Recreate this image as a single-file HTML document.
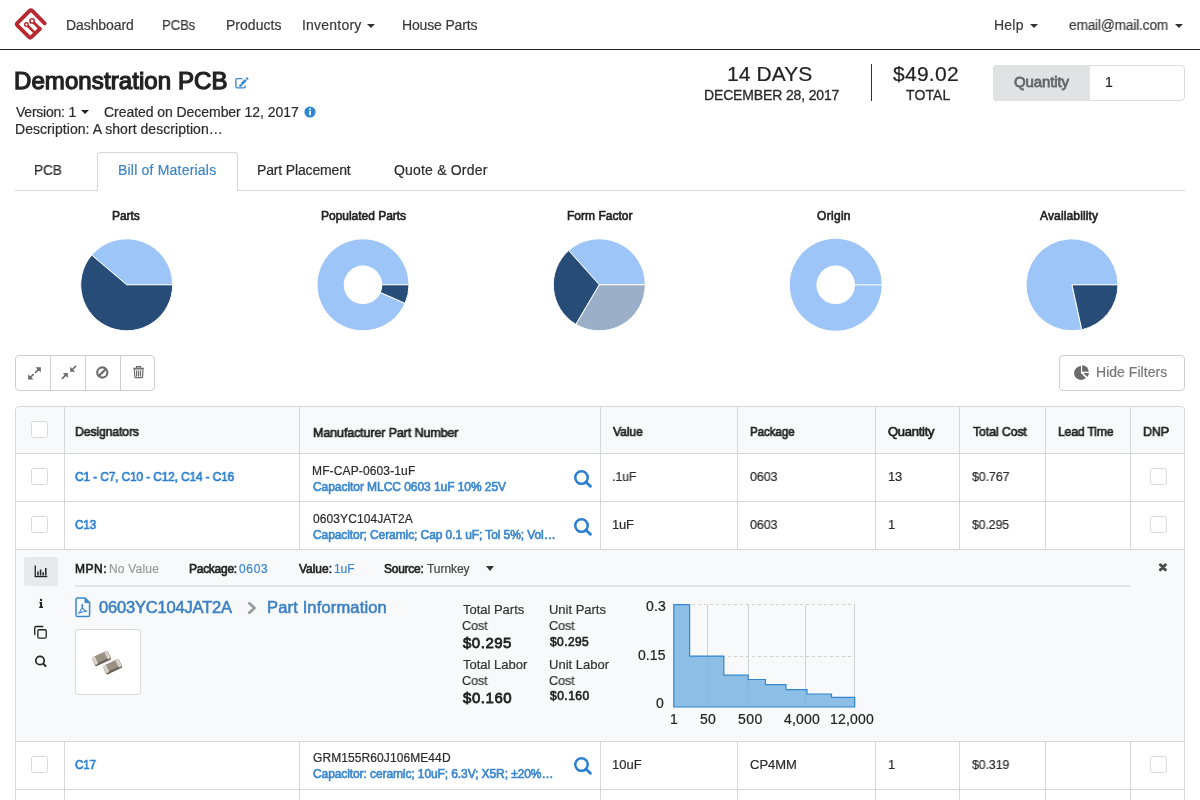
<!DOCTYPE html>
<html><head><meta charset="utf-8"><title>Demonstration PCB - Bill of Materials</title>
<style>
html,body{margin:0;padding:0;background:#fff;}
body{width:1200px;height:800px;overflow:hidden;position:relative;font-family:"Liberation Sans",sans-serif;}
.t{position:absolute;white-space:nowrap;will-change:transform;}
.b{position:absolute;}
.caret{position:absolute;width:0;height:0;border-left:4px solid transparent;border-right:4px solid transparent;border-top:4px solid #333;}
</style></head><body>
<header>
<svg class="b" style="left:10px;top:4px" width="42" height="42" viewBox="10 4 42 42">
<g fill="none" stroke="#b8282f" stroke-linejoin="round">
<path d="M44.7 23.3 L32.3 10.9 Q30.9 9.5 29.5 10.9 L17.5 22.8 Q16.1 24.2 17.5 25.6 L28.85 36.95 Q30.25 38.35 31.65 36.95 L39.9 28.8" stroke-width="3.8" stroke-linecap="round"/>
<path d="M41.2 28.9 L39.9 30.2 L38.6 28.9 Z" fill="#b8282f" stroke-width="1"/>
<path d="M40.4 29.3 L33.7 22.6" stroke-width="2.8"/>
<path d="M27.6 25.7 L35.6 33.7" stroke-width="2.5"/>
</g>
<g fill="#fff" stroke="#b8282f">
<circle cx="26.45" cy="24.55" r="1.8" stroke-width="1.4"/>
<circle cx="32.05" cy="20.9" r="2.2" stroke-width="1.5"/>
</g>
</svg>
<div class="t" style="left:66.38px;top:18px;font-size:14px;line-height:14px;color:#3a3a3a;-webkit-text-stroke:0.2px #3a3a3a;letter-spacing:-0.087px;">Dashboard</div>
<div class="t" style="left:162.24px;top:18px;font-size:14px;line-height:14px;color:#3a3a3a;-webkit-text-stroke:0.2px #3a3a3a;letter-spacing:-0.150px;transform:scaleX(0.9414);transform-origin:0 0;">PCBs</div>
<div class="t" style="left:226.28px;top:18px;font-size:14px;line-height:14px;color:#3a3a3a;-webkit-text-stroke:0.2px #3a3a3a;letter-spacing:0.025px;">Products</div>
<div class="t" style="left:302.45px;top:18px;font-size:14px;line-height:14px;color:#3a3a3a;-webkit-text-stroke:0.2px #3a3a3a;letter-spacing:0.216px;">Inventory</div>
<div class="caret" style="left:367px;top:24px"></div>
<div class="t" style="left:402.27px;top:18px;font-size:14px;line-height:14px;color:#3a3a3a;-webkit-text-stroke:0.2px #3a3a3a;letter-spacing:-0.157px;">House Parts</div>
<div class="t" style="left:993.58px;top:18px;font-size:14px;line-height:14px;color:#3a3a3a;-webkit-text-stroke:0.2px #3a3a3a;letter-spacing:0.225px;">Help</div>
<div class="caret" style="left:1030px;top:24px"></div>
<div class="t" style="left:1068.69px;top:18px;font-size:14px;line-height:14px;color:#3a3a3a;-webkit-text-stroke:0.2px #3a3a3a;letter-spacing:-0.150px;transform:scaleX(0.9753);transform-origin:0 0;">email@mail.com</div>
<div class="caret" style="left:1175px;top:24px"></div>
<div class="b" style="left:0px;top:49px;width:1200px;height:1px;background:#222"></div>
</header>
<main>
<section class="pcb-title">
<div class="t" style="left:13.82px;top:68.75px;font-size:24px;line-height:24px;color:#222;-webkit-text-stroke:1.25px #222;letter-spacing:0.086px;">Demonstration PCB</div>
<svg class="b" style="left:234px;top:76px" width="16" height="14" viewBox="0 0 16 14">
<path d="M8.6 2.6 H3.3 Q1.9 2.6 1.9 4 V10.5 Q1.9 11.9 3.3 11.9 H9.9 Q11.3 11.9 11.3 10.5 V9.6" fill="none" stroke="#3b86d0" stroke-width="1.35"/>
<path d="M7.6 8.2 L11.9 3.9 M12.6 3.2 L13.8 2" fill="none" stroke="#3b86d0" stroke-width="2.7"/>
<path d="M5.6 10.4 L6.3 8.1 L8 9.8 Z" fill="#3b86d0" stroke="#3b86d0" stroke-width="1" stroke-linejoin="round"/>
</svg>
<div class="t" style="left:15.78px;top:105px;font-size:14px;line-height:14px;color:#2b2b2b;-webkit-text-stroke:0.2px #2b2b2b;letter-spacing:-0.233px;">Version: 1</div>
<div class="caret" style="left:81px;top:110px;border-top-color:#222"></div>
<div class="t" style="left:103.95px;top:105px;font-size:14px;line-height:14px;color:#2b2b2b;-webkit-text-stroke:0.2px #2b2b2b;letter-spacing:-0.054px;">Created on December 12, 2017</div>
<svg class="b" style="left:304px;top:106px" width="12" height="12" viewBox="0 0 12 12">
<circle cx="6" cy="6" r="5.6" fill="#2f86d3"/><rect x="5.1" y="5" width="1.8" height="4.2" fill="#fff"/><circle cx="6" cy="3.3" r="1" fill="#fff"/></svg>
<div class="t" style="left:14.78px;top:122.1px;font-size:14px;line-height:14px;color:#2b2b2b;-webkit-text-stroke:0.2px #2b2b2b;letter-spacing:0.048px;">Description: A short description…</div>
<div class="t" style="left:726.88px;top:62.5px;font-size:21px;line-height:21px;color:#222;-webkit-text-stroke:0.2px #222;letter-spacing:0.092px;">14 DAYS</div>
<div class="t" style="left:704.12px;top:87.7px;font-size:14px;line-height:14px;color:#2a2a2a;-webkit-text-stroke:0.3px #2a2a2a;letter-spacing:-0.150px;">DECEMBER 28, 2017</div>
<div class="b" style="left:871px;top:64px;width:1px;height:37px;background:#333"></div>
<div class="t" style="left:893.35px;top:62.5px;font-size:21px;line-height:21px;color:#222;-webkit-text-stroke:0.2px #222;letter-spacing:0.265px;">$49.02</div>
<div class="t" style="left:906.10px;top:87.7px;font-size:14px;line-height:14px;color:#2a2a2a;-webkit-text-stroke:0.3px #2a2a2a;letter-spacing:0.094px;">TOTAL</div>
<div class="b" style="left:993px;top:65px;width:192px;height:36px;border:1px solid #dcdcdc;border-radius:4px;box-sizing:border-box;background:#fff"></div>
<div class="b" style="left:993px;top:65px;width:97px;height:36px;background:#e1e2e4;border-radius:4px 0 0 4px"></div>
<div class="t" style="left:1014.04px;top:74.4px;font-size:15px;line-height:15px;color:#666;-webkit-text-stroke:0.78px #666;letter-spacing:-0.129px;">Quantity</div>
<div class="t" style="left:1104.80px;top:75.4px;font-size:14px;line-height:14px;color:#222;-webkit-text-stroke:0.2px #222;">1</div>
</section>
<nav class="tabs">
<div class="b" style="left:15px;top:190px;width:1170px;height:1px;background:#d6d6d6"></div>
<div class="b" style="left:97px;top:152px;width:141px;height:39px;border:1px solid #d6d6d6;border-bottom:none;border-radius:4px 4px 0 0;background:#fff;box-sizing:border-box"></div>
<div class="t" style="left:33.90px;top:163px;font-size:14px;line-height:14px;color:#2b2b2b;-webkit-text-stroke:0.2px #2b2b2b;letter-spacing:-0.150px;transform:scaleX(0.9738);transform-origin:0 0;">PCB</div>
<div class="t" style="left:118.38px;top:163px;font-size:14px;line-height:14px;color:#3d85c6;-webkit-text-stroke:0.2px #3d85c6;letter-spacing:0.203px;">Bill of Materials</div>
<div class="t" style="left:257.12px;top:163px;font-size:14px;line-height:14px;color:#2b2b2b;-webkit-text-stroke:0.2px #2b2b2b;letter-spacing:-0.154px;">Part Placement</div>
<div class="t" style="left:393.62px;top:163px;font-size:14px;line-height:14px;color:#2b2b2b;-webkit-text-stroke:0.2px #2b2b2b;letter-spacing:0.188px;">Quote &amp; Order</div>
</nav>
<section class="charts">
<svg class="b" style="left:0;top:195px" width="1200" height="145" viewBox="0 195 1200 145"><path d="M126.7 284.8 L172.70 284.80 A46 46 0 0 0 91.63 255.04 Z" fill="#9dc5f8" stroke="#fff" stroke-width="1" stroke-linejoin="round"/><path d="M126.7 284.8 L91.63 255.04 A46 46 0 1 0 172.70 284.80 Z" fill="#264c77" stroke="#fff" stroke-width="1" stroke-linejoin="round"/><path d="M363 284.8 L409.00 284.80 A46 46 0 1 0 405.10 303.33 Z" fill="#9dc5f8" stroke="#fff" stroke-width="1" stroke-linejoin="round"/><path d="M363 284.8 L405.10 303.33 A46 46 0 0 0 409.00 284.80 Z" fill="#264c77" stroke="#fff" stroke-width="1" stroke-linejoin="round"/><circle cx="363" cy="284.8" r="19.3" fill="#fff"/><path d="M599.3 284.8 L645.30 284.80 A46 46 0 0 0 568.66 250.49 Z" fill="#9dc5f8" stroke="#fff" stroke-width="1" stroke-linejoin="round"/><path d="M599.3 284.8 L568.66 250.49 A46 46 0 0 0 575.88 324.39 Z" fill="#264c77" stroke="#fff" stroke-width="1" stroke-linejoin="round"/><path d="M599.3 284.8 L575.88 324.39 A46 46 0 0 0 645.30 284.80 Z" fill="#9bb0c8" stroke="#fff" stroke-width="1" stroke-linejoin="round"/><circle cx="835.7" cy="284.8" r="46" fill="#9dc5f8"/><circle cx="835.7" cy="284.8" r="19.3" fill="#fff"/><line x1="854" y1="284.8" x2="882" y2="284.8" stroke="#fff" stroke-width="1"/><path d="M1072 284.8 L1118.00 284.80 A46 46 0 1 0 1081.75 329.75 Z" fill="#9dc5f8" stroke="#fff" stroke-width="1" stroke-linejoin="round"/><path d="M1072 284.8 L1081.75 329.75 A46 46 0 0 0 1118.00 284.80 Z" fill="#264c77" stroke="#fff" stroke-width="1" stroke-linejoin="round"/></svg>
<div class="t" style="left:111.81px;top:209.8px;font-size:12px;line-height:12px;color:#222;-webkit-text-stroke:0.62px #222;letter-spacing:-0.061px;">Parts</div>
<div class="t" style="left:321.21px;top:209.8px;font-size:12px;line-height:12px;color:#222;-webkit-text-stroke:0.62px #222;letter-spacing:-0.023px;">Populated Parts</div>
<div class="t" style="left:566.81px;top:209.8px;font-size:12px;line-height:12px;color:#222;-webkit-text-stroke:0.62px #222;letter-spacing:0.015px;">Form Factor</div>
<div class="t" style="left:816.91px;top:209.8px;font-size:12px;line-height:12px;color:#222;-webkit-text-stroke:0.62px #222;letter-spacing:0.306px;">Origin</div>
<div class="t" style="left:1040.31px;top:209.8px;font-size:12px;line-height:12px;color:#222;-webkit-text-stroke:0.62px #222;letter-spacing:0.144px;">Availability</div>
</section>
<div class="toolbar">
<div class="b" style="left:15px;top:355px;width:140px;height:36px;border:1px solid #cfcfcf;border-radius:4px;box-sizing:border-box;background:#fff"></div>
<div class="b" style="left:50px;top:356px;width:1px;height:34px;background:#cfcfcf"></div>
<div class="b" style="left:85px;top:356px;width:1px;height:34px;background:#cfcfcf"></div>
<div class="b" style="left:120px;top:356px;width:1px;height:34px;background:#cfcfcf"></div>
<svg class="b" style="left:15px;top:355px" width="140" height="36" viewBox="15 355 140 36">
<g stroke="#6b6b6b" stroke-width="1.7" fill="none" stroke-linecap="butt">
<path d="M38.8 369.2 L35.1 372.9"/>
<path d="M30.2 377.5 L33.7 374"/>
<path d="M65.6 375.2 L62 378.8"/>
<path d="M72.4 369.5 L76 365.9"/>
</g>
<g fill="#6b6b6b">
<path d="M40.8 367.2 H35.5 L40.8 372.5 Z"/>
<path d="M28.2 379.5 V374.2 L33.5 379.5 Z"/>
<path d="M67.8 373 H62.8 L67.8 378 Z"/>
<path d="M70.2 371.7 V366.7 L75.2 371.7 Z"/>
</g>
<g stroke="#6b6b6b" stroke-width="1.7" fill="none">
<circle cx="102.3" cy="372.5" r="5.1" stroke-width="2.1"/>
<path d="M98.8 376 L105.8 369" stroke-width="2.3"/>
</g>
<g fill="none" stroke="#6b6b6b" stroke-width="1.2">
<path d="M134.4 369 H142.9 L142.6 376.6 Q142.6 377.6 141.5 377.6 H135.8 Q134.7 377.6 134.7 376.6 Z"/>
<path d="M133.2 368.3 H143.9"/><path d="M136.6 368 V366.6 H140.5 V368"/>
<path d="M136.6 370.6 V376.6 M138.55 370.6 V376.6 M140.5 370.6 V376.6"/>
</g></svg>
<div class="b" style="left:1059px;top:355px;width:126px;height:36px;border:1px solid #cfcfcf;border-radius:4px;box-sizing:border-box;background:#fff"></div>
<svg class="b" style="left:1072px;top:363px" width="20" height="18" viewBox="1072 363 20 18">
<path d="M1081 373 V366.1 A6.9 6.9 0 1 0 1085.88 377.88 Z" fill="#6b6b6b"/>
<path d="M1082.2 371.8 V365.2 A6.6 6.6 0 0 1 1088.8 371.8 Z" fill="#6b6b6b"/>
<path d="M1083.3 373 H1088.9 A5.6 5.6 0 0 1 1087.26 376.96 Z" fill="#6b6b6b"/>
</svg>
<div class="t" style="left:1096.38px;top:365px;font-size:14px;line-height:14px;color:#777;-webkit-text-stroke:0.2px #777;letter-spacing:0.034px;">Hide Filters</div>
</div>
<section class="bom-table">
<div class="b" style="left:15px;top:406px;width:1170px;height:420px;border:1px solid #d7d7d7;border-radius:4px 4px 0 0;box-sizing:border-box;background:#fff;overflow:hidden">
<div class="b" style="left:0;top:0;width:1168px;height:47px;background:#f8f9fa"></div>
</div>
<div class="b" style="left:16px;top:453px;width:1168px;height:1px;background:#d7d7d7"></div>
<div class="b" style="left:16px;top:501px;width:1168px;height:1px;background:#d7d7d7"></div>
<div class="b" style="left:16px;top:549px;width:1168px;height:1px;background:#d7d7d7"></div>
<div class="b" style="left:16px;top:741px;width:1168px;height:1px;background:#d7d7d7"></div>
<div class="b" style="left:16px;top:789px;width:1168px;height:1px;background:#d7d7d7"></div>
<div class="b" style="left:16px;top:550px;width:1168px;height:191px;background:#f8f9fa"></div>
<div class="b" style="left:64px;top:407px;width:1px;height:142px;background:#d7d7d7"></div>
<div class="b" style="left:64px;top:742px;width:1px;height:60px;background:#d7d7d7"></div>
<div class="b" style="left:299px;top:407px;width:1px;height:142px;background:#d7d7d7"></div>
<div class="b" style="left:299px;top:742px;width:1px;height:60px;background:#d7d7d7"></div>
<div class="b" style="left:600px;top:407px;width:1px;height:142px;background:#d7d7d7"></div>
<div class="b" style="left:600px;top:742px;width:1px;height:60px;background:#d7d7d7"></div>
<div class="b" style="left:737px;top:407px;width:1px;height:142px;background:#d7d7d7"></div>
<div class="b" style="left:737px;top:742px;width:1px;height:60px;background:#d7d7d7"></div>
<div class="b" style="left:875px;top:407px;width:1px;height:142px;background:#d7d7d7"></div>
<div class="b" style="left:875px;top:742px;width:1px;height:60px;background:#d7d7d7"></div>
<div class="b" style="left:959px;top:407px;width:1px;height:142px;background:#d7d7d7"></div>
<div class="b" style="left:959px;top:742px;width:1px;height:60px;background:#d7d7d7"></div>
<div class="b" style="left:1045px;top:407px;width:1px;height:142px;background:#d7d7d7"></div>
<div class="b" style="left:1045px;top:742px;width:1px;height:60px;background:#d7d7d7"></div>
<div class="b" style="left:1130px;top:407px;width:1px;height:142px;background:#d7d7d7"></div>
<div class="b" style="left:1130px;top:742px;width:1px;height:60px;background:#d7d7d7"></div>
<div class="b" style="left:31px;top:421px;width:17px;height:17px;border:1px solid #d9dadb;border-radius:2.5px;box-sizing:border-box;background:#fff"></div>
<div class="t" style="left:74.88px;top:425.25px;font-size:13px;line-height:13px;color:#222;-webkit-text-stroke:0.68px #222;letter-spacing:-0.150px;transform:scaleX(0.9433);transform-origin:0 0;">Designators</div>
<div class="t" style="left:312.66px;top:425.5px;font-size:13px;line-height:13px;color:#222;-webkit-text-stroke:0.68px #222;letter-spacing:-0.150px;transform:scaleX(0.9668);transform-origin:0 0;">Manufacturer Part Number</div>
<div class="t" style="left:613.45px;top:425.25px;font-size:13px;line-height:13px;color:#222;-webkit-text-stroke:0.68px #222;letter-spacing:-0.150px;transform:scaleX(0.9421);transform-origin:0 0;">Value</div>
<div class="t" style="left:749.91px;top:425.25px;font-size:13px;line-height:13px;color:#222;-webkit-text-stroke:0.68px #222;letter-spacing:-0.150px;transform:scaleX(0.8969);transform-origin:0 0;">Package</div>
<div class="t" style="left:888.22px;top:425.25px;font-size:13px;line-height:13px;color:#222;-webkit-text-stroke:0.68px #222;letter-spacing:-0.276px;">Quantity</div>
<div class="t" style="left:972.59px;top:425.25px;font-size:13px;line-height:13px;color:#222;-webkit-text-stroke:0.68px #222;letter-spacing:-0.150px;transform:scaleX(0.9537);transform-origin:0 0;">Total Cost</div>
<div class="t" style="left:1057.63px;top:425.25px;font-size:13px;line-height:13px;color:#222;-webkit-text-stroke:0.68px #222;letter-spacing:-0.150px;transform:scaleX(0.9342);transform-origin:0 0;">Lead Time</div>
<div class="t" style="left:1142.87px;top:425.25px;font-size:13px;line-height:13px;color:#222;-webkit-text-stroke:0.68px #222;letter-spacing:-0.150px;transform:scaleX(0.9568);transform-origin:0 0;">DNP</div>
<div class="b" style="left:31px;top:468px;width:17px;height:17px;border:1px solid #d9dadb;border-radius:2.5px;box-sizing:border-box;background:#fff"></div>
<div class="t" style="left:75.24px;top:470.25px;font-size:13px;line-height:13px;color:#2a7fcf;-webkit-text-stroke:0.68px #2a7fcf;letter-spacing:-0.150px;transform:scaleX(0.9177);transform-origin:0 0;">C1 - C7, C10 - C12, C14 - C16</div>
<div class="t" style="left:312.25px;top:465px;font-size:12px;line-height:12px;color:#2b2b2b;-webkit-text-stroke:0.2px #2b2b2b;letter-spacing:0.134px;">MF-CAP-0603-1uF</div>
<div class="t" style="left:312.94px;top:480.6px;font-size:12px;line-height:12px;color:#3a87cf;-webkit-text-stroke:0.62px #3a87cf;letter-spacing:-0.058px;">Capacitor MLCC 0603 1uF 10% 25V</div>
<svg class="b" style="left:572.00px;top:467.90px" width="22" height="22" viewBox="0 0 22 22"><circle cx="9.5" cy="9.6" r="6.25" fill="none" stroke="#2a7fcf" stroke-width="2.5"/><path d="M13.9 14 L18.4 18.2" stroke="#2a7fcf" stroke-width="2.9" stroke-linecap="round"/></svg>
<div class="t" style="left:612.12px;top:470.25px;font-size:13px;line-height:13px;color:#2b2b2b;-webkit-text-stroke:0.2px #2b2b2b;letter-spacing:-0.150px;transform:scaleX(0.9634);transform-origin:0 0;">.1uF</div>
<div class="t" style="left:750.02px;top:470.25px;font-size:13px;line-height:13px;color:#2b2b2b;-webkit-text-stroke:0.2px #2b2b2b;letter-spacing:-0.150px;transform:scaleX(0.9663);transform-origin:0 0;">0603</div>
<div class="t" style="left:887.60px;top:470.25px;font-size:13px;line-height:13px;color:#2b2b2b;-webkit-text-stroke:0.2px #2b2b2b;letter-spacing:-0.275px;">13</div>
<div class="t" style="left:972.28px;top:470.25px;font-size:13px;line-height:13px;color:#2b2b2b;-webkit-text-stroke:0.2px #2b2b2b;letter-spacing:-0.150px;transform:scaleX(0.9621);transform-origin:0 0;">$0.767</div>
<div class="b" style="left:1150px;top:468px;width:17px;height:17px;border:1px solid #d9dadb;border-radius:2.5px;box-sizing:border-box;background:#fff"></div>
<div class="b" style="left:31px;top:516px;width:17px;height:17px;border:1px solid #d9dadb;border-radius:2.5px;box-sizing:border-box;background:#fff"></div>
<div class="t" style="left:75.24px;top:518.25px;font-size:13px;line-height:13px;color:#2a7fcf;-webkit-text-stroke:0.68px #2a7fcf;letter-spacing:-0.150px;transform:scaleX(0.9020);transform-origin:0 0;">C13</div>
<div class="t" style="left:312.75px;top:513px;font-size:12px;line-height:12px;color:#2b2b2b;-webkit-text-stroke:0.2px #2b2b2b;letter-spacing:0.096px;">0603YC104JAT2A</div>
<div class="t" style="left:312.94px;top:528.6px;font-size:12px;line-height:12px;color:#3a87cf;-webkit-text-stroke:0.62px #3a87cf;letter-spacing:-0.090px;">Capacitor; Ceramic; Cap 0.1 uF; Tol 5%; Vol…</div>
<svg class="b" style="left:572.00px;top:515.90px" width="22" height="22" viewBox="0 0 22 22"><circle cx="9.5" cy="9.6" r="6.25" fill="none" stroke="#2a7fcf" stroke-width="2.5"/><path d="M13.9 14 L18.4 18.2" stroke="#2a7fcf" stroke-width="2.9" stroke-linecap="round"/></svg>
<div class="t" style="left:612.20px;top:518.25px;font-size:13px;line-height:13px;color:#2b2b2b;-webkit-text-stroke:0.2px #2b2b2b;letter-spacing:-0.188px;">1uF</div>
<div class="t" style="left:750.02px;top:518.25px;font-size:13px;line-height:13px;color:#2b2b2b;-webkit-text-stroke:0.2px #2b2b2b;letter-spacing:-0.150px;transform:scaleX(0.9663);transform-origin:0 0;">0603</div>
<div class="t" style="left:887.60px;top:518.25px;font-size:13px;line-height:13px;color:#2b2b2b;-webkit-text-stroke:0.2px #2b2b2b;">1</div>
<div class="t" style="left:972.28px;top:518.25px;font-size:13px;line-height:13px;color:#2b2b2b;-webkit-text-stroke:0.2px #2b2b2b;letter-spacing:-0.150px;transform:scaleX(0.9511);transform-origin:0 0;">$0.295</div>
<div class="b" style="left:1150px;top:516px;width:17px;height:17px;border:1px solid #d9dadb;border-radius:2.5px;box-sizing:border-box;background:#fff"></div>
<div class="b" style="left:31px;top:756px;width:17px;height:17px;border:1px solid #d9dadb;border-radius:2.5px;box-sizing:border-box;background:#fff"></div>
<div class="t" style="left:75.24px;top:758.25px;font-size:13px;line-height:13px;color:#2a7fcf;-webkit-text-stroke:0.68px #2a7fcf;letter-spacing:-0.150px;transform:scaleX(0.8955);transform-origin:0 0;">C17</div>
<div class="t" style="left:312.62px;top:752px;font-size:12px;line-height:12px;color:#2b2b2b;-webkit-text-stroke:0.2px #2b2b2b;letter-spacing:0.087px;">GRM155R60J106ME44D</div>
<div class="t" style="left:312.94px;top:767.6px;font-size:12px;line-height:12px;color:#3a87cf;-webkit-text-stroke:0.62px #3a87cf;letter-spacing:-0.094px;">Capacitor: ceramic; 10uF; 6.3V; X5R; ±20%…</div>
<svg class="b" style="left:572.00px;top:754.90px" width="22" height="22" viewBox="0 0 22 22"><circle cx="9.5" cy="9.6" r="6.25" fill="none" stroke="#2a7fcf" stroke-width="2.5"/><path d="M13.9 14 L18.4 18.2" stroke="#2a7fcf" stroke-width="2.9" stroke-linecap="round"/></svg>
<div class="t" style="left:612.20px;top:758.25px;font-size:13px;line-height:13px;color:#2b2b2b;-webkit-text-stroke:0.2px #2b2b2b;">10uF</div>
<div class="t" style="left:749.88px;top:758.25px;font-size:13px;line-height:13px;color:#2b2b2b;-webkit-text-stroke:0.2px #2b2b2b;">CP4MM</div>
<div class="t" style="left:887.60px;top:758.25px;font-size:13px;line-height:13px;color:#2b2b2b;-webkit-text-stroke:0.2px #2b2b2b;">1</div>
<div class="t" style="left:972.28px;top:758.25px;font-size:13px;line-height:13px;color:#2b2b2b;-webkit-text-stroke:0.2px #2b2b2b;letter-spacing:-0.150px;transform:scaleX(0.9569);transform-origin:0 0;">$0.319</div>
<div class="b" style="left:1150px;top:756px;width:17px;height:17px;border:1px solid #d9dadb;border-radius:2.5px;box-sizing:border-box;background:#fff"></div>
<div class="detail-panel">
<div class="b" style="left:24px;top:557px;width:34px;height:29px;background:#e8e9eb;border-radius:3px"></div>
<svg class="b" style="left:30px;top:560px" width="22" height="110" viewBox="30 560 22 110">
<g fill="#222">
<rect x="34.6" y="565.5" width="1.3" height="11"/><rect x="34.6" y="575.9" width="12.6" height="1.3"/>
<rect x="37.2" y="571.5" width="1.5" height="4"/><rect x="39.8" y="569.5" width="1.5" height="6"/><rect x="42.4" y="572.2" width="1.5" height="3.3"/><rect x="45" y="568" width="1.5" height="7.5"/>
<circle cx="41" cy="599.9" r="1.2"/><path d="M39.3 601.9 H42.1 V606.6 H43 V608 H39.2 V606.6 H40.1 V603.2 H39.3 Z"/>
</g>
<g fill="none" stroke="#222" stroke-width="1.3">
<path d="M35.3 634.9 Q34.7 634.5 34.7 633.6 V627.9 Q34.7 626.5 36.1 626.5 H41.8 Q42.7 626.5 43.1 627.1"/>
<rect x="37.85" y="629.75" width="8.4" height="8.4" rx="1.5"/>
</g>
<g fill="none" stroke="#222">
<circle cx="40" cy="660.5" r="4.2" stroke-width="1.7"/><path d="M43.2 663.7 L46.2 666.6" stroke-width="1.9" stroke-linecap="butt"/>
</g></svg>
<div class="t" style="left:74.81px;top:562.8px;font-size:12px;line-height:12px;color:#222;-webkit-text-stroke:0.62px #222;letter-spacing:0.502px;">MPN:</div>
<div class="t" style="left:108.50px;top:562.8px;font-size:12px;line-height:12px;color:#9a9a9a;-webkit-text-stroke:0.2px #9a9a9a;letter-spacing:0.204px;">No Value</div>
<div class="t" style="left:188.81px;top:562.8px;font-size:12px;line-height:12px;color:#222;-webkit-text-stroke:0.62px #222;letter-spacing:-0.274px;">Package:</div>
<div class="t" style="left:239.00px;top:562.8px;font-size:12px;line-height:12px;color:#3a87cf;-webkit-text-stroke:0.2px #3a87cf;letter-spacing:0.692px;">0603</div>
<div class="t" style="left:298.94px;top:562.8px;font-size:12px;line-height:12px;color:#222;-webkit-text-stroke:0.62px #222;letter-spacing:-0.029px;">Value:</div>
<div class="t" style="left:334.32px;top:562.8px;font-size:12px;line-height:12px;color:#3a87cf;-webkit-text-stroke:0.2px #3a87cf;letter-spacing:-0.088px;">1uF</div>
<div class="t" style="left:384.31px;top:562.8px;font-size:12px;line-height:12px;color:#222;-webkit-text-stroke:0.62px #222;letter-spacing:-0.245px;">Source:</div>
<div class="t" style="left:427.15px;top:562.8px;font-size:12px;line-height:12px;color:#444;-webkit-text-stroke:0.2px #444;letter-spacing:-0.054px;">Turnkey</div>
<div class="caret" style="left:485.5px;top:566px;border-width:5px 4.5px 0 4.5px;border-top-color:#333"></div>
<div class="b" style="left:75px;top:585px;width:1056px;height:2px;background:#e4e5e7"></div>
<svg class="b" style="left:1157px;top:562px" width="12" height="12" viewBox="0 0 12 12"><path d="M3.4 2.8 L8.4 7.8 M8.4 2.8 L3.4 7.8" stroke="#4a4a4a" stroke-width="3" stroke-linecap="round"/></svg>
<svg class="b" style="left:75px;top:597px" width="16" height="21" viewBox="0 0 16 21">
<path d="M2.6 1 H10 L14.6 5.6 V17.9 Q14.6 19.5 13 19.5 H2.6 Q1 19.5 1 17.9 V2.6 Q1 1 2.6 1 Z" fill="none" stroke="#3b86d0" stroke-width="1.5"/>
<path d="M10 1 V5.6 H14.6 Z" fill="#3b86d0" stroke="#3b86d0" stroke-width="1" stroke-linejoin="round"/>
<path d="M4 16 Q5.5 14 7.5 10 Q8 7.5 7.3 7.5 Q6.5 7.6 7.2 10.5 Q8.6 13.5 11.8 14.2 Q9 14 4 16 Z" fill="none" stroke="#3b86d0" stroke-width="1.1"/>
</svg>
<div class="t" style="left:99.05px;top:598.8px;font-size:16.5px;line-height:16.5px;color:#3b80c4;-webkit-text-stroke:0.55px #3b80c4;letter-spacing:-0.187px;">0603YC104JAT2A</div>
<svg class="b" style="left:245px;top:600px" width="14" height="16" viewBox="0 0 14 16"><path d="M3.5 2.5 L9.5 8 L3.5 13.5" fill="none" stroke="#9a9a9a" stroke-width="2.6"/></svg>
<div class="t" style="left:267.10px;top:598.8px;font-size:16.5px;line-height:16.5px;color:#3b80c4;-webkit-text-stroke:0.55px #3b80c4;letter-spacing:0.157px;">Part Information</div>
<div class="b" style="left:75px;top:629px;width:66px;height:66px;background:#fff;border:1px solid #d9d9d9;border-radius:3px;box-sizing:border-box"></div>
<svg class="b" style="left:76px;top:630px" width="64" height="64" viewBox="76 630 64 64">
<g transform="rotate(-25 101.4 658.3)">
<rect x="92.6" y="655" width="17.6" height="8.4" rx="1.6" fill="#6a635a"/>
<rect x="93" y="653.6" width="17" height="7.4" rx="1.4" fill="#9b9284"/>
<rect x="92.8" y="653.6" width="3.4" height="8.4" rx="1.2" fill="#d9d3ca"/><rect x="106.6" y="653.6" width="3.4" height="8.4" rx="1.2" fill="#d9d3ca"/>
</g>
<g transform="rotate(-25 112.5 666.5)">
<rect x="103.7" y="663.2" width="17.6" height="8.4" rx="1.6" fill="#6a635a"/>
<rect x="104.1" y="661.8" width="17" height="7.4" rx="1.4" fill="#9b9284"/>
<rect x="103.9" y="661.8" width="3.4" height="8.4" rx="1.2" fill="#d9d3ca"/><rect x="117.7" y="661.8" width="3.4" height="8.4" rx="1.2" fill="#d9d3ca"/>
</g></svg>
<div class="t" style="left:462.55px;top:602.75px;font-size:13px;line-height:13px;color:#333;-webkit-text-stroke:0.2px #333;letter-spacing:-0.018px;">Total Parts</div>
<div class="t" style="left:462.19px;top:618.8px;font-size:13px;line-height:13px;color:#333;-webkit-text-stroke:0.2px #333;letter-spacing:-0.150px;transform:scaleX(0.9746);transform-origin:0 0;">Cost</div>
<div class="t" style="left:463.06px;top:635.25px;font-size:15px;line-height:15px;color:#222;-webkit-text-stroke:0.78px #222;letter-spacing:0.509px;">$0.295</div>
<div class="t" style="left:462.55px;top:657.5px;font-size:13px;line-height:13px;color:#333;-webkit-text-stroke:0.2px #333;">Total Labor</div>
<div class="t" style="left:462.19px;top:673.7px;font-size:13px;line-height:13px;color:#333;-webkit-text-stroke:0.2px #333;letter-spacing:-0.150px;transform:scaleX(0.9746);transform-origin:0 0;">Cost</div>
<div class="t" style="left:463.06px;top:690.3px;font-size:15px;line-height:15px;color:#222;-webkit-text-stroke:0.78px #222;letter-spacing:0.559px;">$0.160</div>
<div class="t" style="left:548.80px;top:602.75px;font-size:13px;line-height:13px;color:#333;-webkit-text-stroke:0.2px #333;letter-spacing:-0.014px;">Unit Parts</div>
<div class="t" style="left:549.19px;top:618.8px;font-size:13px;line-height:13px;color:#333;-webkit-text-stroke:0.2px #333;letter-spacing:-0.150px;transform:scaleX(0.9746);transform-origin:0 0;">Cost</div>
<div class="t" style="left:549.98px;top:635.7px;font-size:12px;line-height:12px;color:#222;-webkit-text-stroke:0.62px #222;letter-spacing:0.416px;">$0.295</div>
<div class="t" style="left:548.80px;top:657.5px;font-size:13px;line-height:13px;color:#333;-webkit-text-stroke:0.2px #333;letter-spacing:0.022px;">Unit Labor</div>
<div class="t" style="left:549.19px;top:673.7px;font-size:13px;line-height:13px;color:#333;-webkit-text-stroke:0.2px #333;letter-spacing:-0.150px;transform:scaleX(0.9746);transform-origin:0 0;">Cost</div>
<div class="t" style="left:549.98px;top:690.4px;font-size:12px;line-height:12px;color:#222;-webkit-text-stroke:0.62px #222;letter-spacing:0.491px;">$0.160</div>
<svg class="b" style="left:630px;top:595px" width="260" height="135" viewBox="630 595 260 135"><g stroke="#d0d0d0" stroke-width="1"><line x1="707.5" y1="604.5" x2="707.5" y2="707"/><line x1="748.5" y1="604.5" x2="748.5" y2="707"/><line x1="805.5" y1="604.5" x2="805.5" y2="707"/><line x1="854.5" y1="604.5" x2="854.5" y2="707"/></g><g stroke="#cfcfcf" stroke-width="1" stroke-dasharray="3 3"><line x1="674" y1="604.5" x2="855" y2="604.5"/><line x1="674" y1="656.5" x2="855" y2="656.5"/></g><path d="M673.8 707 L673.8 604.7 L689.6 604.7 L689.6 656.1 L723.8 656.1 L723.8 675.2 L748.1 675.2 L748.1 679.5 L765.4 679.5 L765.4 684.7 L786 684.7 L786 689.7 L807 689.7 L807 694 L831.5 694 L831.5 697.3 L854.7 697.3 L854.7 707 Z" fill="#8dbfe6" fill-opacity="1" stroke="#2f86d3" stroke-width="1.2" stroke-linejoin="miter"/><g stroke="#7aa9d4" stroke-width="0.8" opacity="0.6"><line x1="707.5" y1="657" x2="707.5" y2="706.4"/><line x1="748.5" y1="680.5" x2="748.5" y2="706.4"/><line x1="805.5" y1="690.5" x2="805.5" y2="706.4"/></g></svg>
<div class="t" style="left:646.20px;top:598.8px;font-size:14px;line-height:14px;color:#222;-webkit-text-stroke:0.2px #222;letter-spacing:0.125px;">0.3</div>
<div class="t" style="left:638.20px;top:647.8px;font-size:14px;line-height:14px;color:#222;-webkit-text-stroke:0.2px #222;letter-spacing:0.083px;">0.15</div>
<div class="t" style="left:656.30px;top:695.9px;font-size:14px;line-height:14px;color:#222;-webkit-text-stroke:0.2px #222;">0</div>
<div class="t" style="left:669.80px;top:711.8px;font-size:14px;line-height:14px;color:#222;-webkit-text-stroke:0.2px #222;">1</div>
<div class="t" style="left:700.08px;top:711.8px;font-size:14px;line-height:14px;color:#222;-webkit-text-stroke:0.2px #222;letter-spacing:0.325px;">50</div>
<div class="t" style="left:737.58px;top:711.8px;font-size:14px;line-height:14px;color:#222;-webkit-text-stroke:0.2px #222;letter-spacing:0.525px;">500</div>
<div class="t" style="left:784.00px;top:711.8px;font-size:14px;line-height:14px;color:#222;-webkit-text-stroke:0.2px #222;letter-spacing:0.188px;">4,000</div>
<div class="t" style="left:830.30px;top:711.8px;font-size:14px;line-height:14px;color:#222;-webkit-text-stroke:0.2px #222;letter-spacing:0.170px;">12,000</div>
</div></section></main>
</body></html>
